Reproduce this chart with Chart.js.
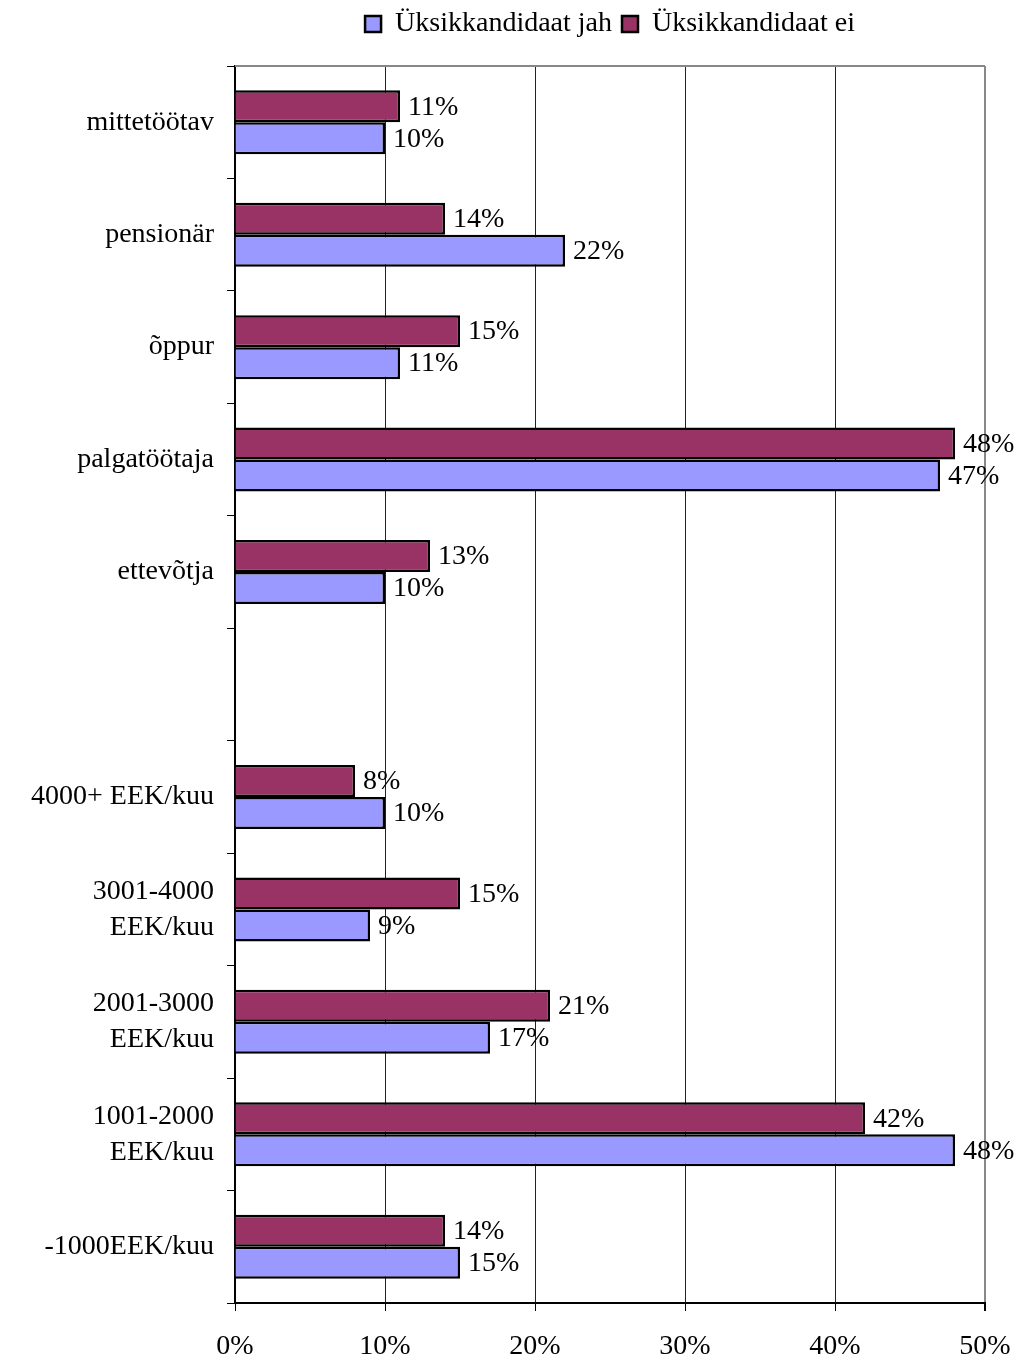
<!DOCTYPE html>
<html>
<head>
<meta charset="utf-8">
<script src="https://cdn.jsdelivr.net/npm/chart.js@4.4.1/dist/chart.umd.min.js"></script>
<style>
  html, body { margin: 0; padding: 0; background: #fff; }
  #wrap { width: 1020px; height: 1360px; }
</style>
</head>
<body>
<div id="wrap"><canvas id="chart"></canvas></div>
<script>
const categories = [
  'mittetöötav', 'pensionär', 'õppur', 'palgatöötaja', 'ettevõtja', '',
  '4000+ EEK/kuu', ['3001-4000', 'EEK/kuu'], ['2001-3000', 'EEK/kuu'],
  ['1001-2000', 'EEK/kuu'], '-1000EEK/kuu'
];
const seriesJah = [10, 22, 11, 47, 10, null, 10, 9, 17, 48, 15];
const seriesEi = [11, 14, 15, 48, 13, null, 8, 15, 21, 42, 14];
const xTicks = [0, 10, 20, 30, 40, 50];

const FONT = 'Liberation Serif, Times New Roman, serif';

// percent labels to the right of each bar end
const barLabels = {
  id: 'barLabels',
  afterDatasetsDraw(chart) {
    const ctx = chart.ctx;
    ctx.save();
    ctx.font = '28px ' + FONT;
    ctx.fillStyle = '#000';
    ctx.textAlign = 'left';
    ctx.textBaseline = 'middle';
    chart.data.datasets.forEach((ds, di) => {
      chart.getDatasetMeta(di).data.forEach((bar, i) => {
        const v = ds.data[i];
        if (v === null || v === undefined) return;
        ctx.fillText(v + '%', bar.x + 8, bar.y + 1);
      });
    });
    ctx.restore();
  }
};

// gray frame line along the top of the plot area
const plotTop = {
  id: 'plotTop',
  beforeDatasetsDraw(chart) {
    const { ctx, chartArea } = chart;
    ctx.save();
    ctx.strokeStyle = '#888';
    ctx.lineWidth = 2;
    ctx.beginPath();
    ctx.moveTo(chartArea.left, chartArea.top);
    ctx.lineTo(chartArea.right, chartArea.top);
    ctx.stroke();
    ctx.restore();
  }
};

// extra space under the legend
const legendGap = {
  id: 'legendGap',
  beforeInit(chart) {
    const fit = chart.legend.fit;
    chart.legend.fit = function () {
      fit.call(this);
      this.height += 18;
    };
  }
};

new Chart(document.getElementById('chart'), {
  type: 'bar',
  data: {
    labels: categories,
    datasets: [
      {
        label: 'Üksikkandidaat ei',
        data: seriesEi,
        backgroundColor: '#993366',
        borderColor: '#000',
        borderWidth: 2.5,
        categoryPercentage: 0.569,
        barPercentage: 1
      },
      {
        label: 'Üksikkandidaat jah',
        data: seriesJah,
        backgroundColor: '#9999FF',
        borderColor: '#000',
        borderWidth: 2.5,
        categoryPercentage: 0.569,
        barPercentage: 1
      }
    ]
  },
  options: {
    indexAxis: 'y',
    responsive: true,
    maintainAspectRatio: false,
    animation: false,
    layout: { padding: { left: 0, right: 35, top: 0, bottom: 0 } },
    plugins: {
      legend: {
        position: 'top',
        fullSize: false,
        reverse: true,
        labels: {
          boxWidth: 16,
          boxHeight: 16,
          padding: 10,
          color: '#000',
          font: { family: FONT, size: 28 }
        }
      },
      tooltip: { enabled: false }
    },
    scales: {
      x: {
        min: 0,
        max: 50,
        afterBuildTicks(scale) {
          scale.ticks = xTicks.map(v => ({ value: v }));
        },
        afterFit(scale) {
          scale.height = 57;
          scale.paddingLeft = 0;
          scale.paddingRight = 0;
        },
        border: { color: '#000', width: 2 },
        grid: {
          color: c => (c.index === xTicks.length - 1 ? '#888' : '#222'),
          lineWidth: c => (c.index === xTicks.length - 1 ? 2 : 1),
          tickLength: 8,
          tickColor: '#000'
        },
        ticks: {
          padding: 19,
          color: '#000',
          font: { family: FONT, size: 28 },
          callback: v => v + '%'
        }
      },
      y: {
        afterFit(scale) { scale.width = 235; },
        border: { color: '#000', width: 2 },
        grid: {
          offset: true,
          drawOnChartArea: false,
          tickLength: 8,
          color: '#000'
        },
        ticks: {
          padding: 13,
          color: '#000',
          font: { family: FONT, size: 28, lineHeight: 1.29 }
        }
      }
    }
  },
  plugins: [barLabels, plotTop, legendGap]
});
</script>
</body>
</html>
